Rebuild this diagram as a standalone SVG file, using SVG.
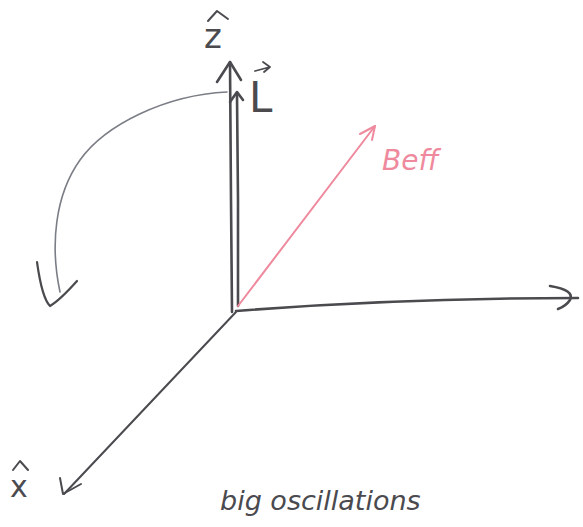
<svg xmlns="http://www.w3.org/2000/svg" width="583" height="527" viewBox="0 0 583 527">
<style>
.ax{fill:none;stroke:#4a4a4f;stroke-width:2.6;stroke-linecap:round;stroke-linejoin:round}
.thin{fill:none;stroke:#7a7d85;stroke-width:1.6;stroke-linecap:round;stroke-linejoin:round}
.red{fill:none;stroke:#ef8a9e;stroke-width:2;stroke-linecap:round;stroke-linejoin:round}
.lbl{font-family:"DejaVu Sans","Liberation Sans",sans-serif;fill:#4a4a4f}
</style>
<rect width="583" height="527" fill="#ffffff"/>
<g id="connectors">
  <!-- z axis -->
  <path class="ax" d="M232,312 L231,200 L230,62"/>
  <path class="ax" d="M217,82 L230,62 L241,80"/>
  <!-- L vector -->
  <path class="ax" d="M238,306 L238,200 L237,95"/>
  <path class="ax" d="M230,102 L237,92 L243,100"/>
  <!-- y axis -->
  <path class="ax" d="M236,311 Q400,298 578,298"/>
  <path class="ax" d="M550,286 Q575,290 570,300 Q566,306 558,309"/>
  <!-- x axis -->
  <path class="ax" d="M236,312 L64,494" style="stroke-width:2"/>
  <path class="ax" d="M60,478 L63,494 L81,484" style="stroke-width:2"/>
  <!-- B_eff -->
  <path class="red" d="M238,306 L375,126"/>
  <path class="red" d="M360,134 L375,126 L372,140"/>
  <!-- precession curve -->
  <path class="thin" d="M227,92 C165,95 105,125 80,160 C55,195 50,245 60,292"/>
  <path class="ax" d="M37,262 Q42,298 50,306 Q60,300 77,281" style="stroke-width:2.2"/>
</g>
<g id="label-z">
  <text class="lbl" x="204" y="48" font-size="34">z</text>
  <path class="ax" d="M208,21 L217,11 L228,19" style="stroke-width:2"/>
</g>
<g id="label-L">
  <text class="lbl" x="249" y="112" font-size="42">L</text>
  <path class="ax" d="M255,71 L270,67 M263,62 L270,67 L264,72" style="stroke-width:1.8"/>
</g>
<g id="label-Beff">
  <text x="382" y="170" font-size="28" font-style="italic" font-family="'DejaVu Sans','Liberation Sans',sans-serif" fill="#ef8a9e">Beff</text>
</g>
<g id="label-x">
  <text class="lbl" x="10" y="497" font-size="30">x</text>
  <path class="ax" d="M13,470 L20,461 L28,470" style="stroke-width:2"/>
</g>
<g id="label-caption">
  <text class="lbl" x="220" y="510" font-size="27" font-style="italic">big oscillations</text>
</g>
</svg>
